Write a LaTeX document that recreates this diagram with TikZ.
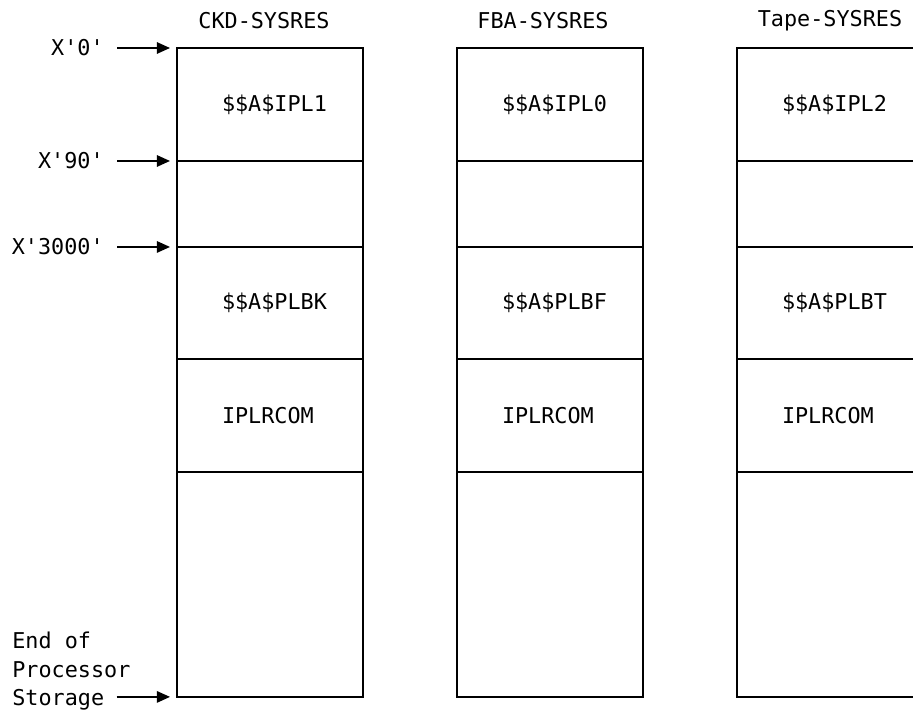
\documentclass[tikz,border=0pt]{standalone}
\usepackage{fontspec}
\setmonofont{DejaVu Sans Mono}
\usetikzlibrary{arrows.meta, positioning}

% module names start at a fixed column inside the box
\newcommand{\memtext}[1]{\makebox[1.92cm][l]{#1}}

\begin{document}
\begin{tikzpicture}[x=0.02cm, y=-0.02cm, >={Triangle[length=7.5pt, width=6.5pt]},
    txt/.style={font=\ttfamily\fontsize{12.4}{16.2}\selectfont},
    mem/.style={draw, line width=1pt, txt, minimum width=3.72cm, inner sep=0pt, outer sep=0pt},
    addr/.style={txt, anchor=east, inner xsep=0.26cm, inner ysep=0pt},
    ptr/.style={->, line width=1pt, shorten >=0.14cm}]

    \useasboundingbox (0,0) rectangle (913,713);

    % CKD-SYSRES
    \node[txt] (ckdtitle) at (264,21) {CKD-SYSRES};
    \node[mem, minimum height=2.26cm, anchor=north] (ckd1) at (270,48) {\memtext{\$\$A\$IPL1}};
    \node[mem, minimum height=1.72cm, below=0pt of ckd1] (ckd2) {};
    \node[mem, minimum height=2.24cm, below=0pt of ckd2] (ckd3) {\memtext{\$\$A\$PLBK}};
    \node[mem, minimum height=2.26cm, below=0pt of ckd3] (ckd4) {\memtext{IPLRCOM}};
    \node[mem, minimum height=4.5cm, below=0pt of ckd4] (ckd5) {};

    % FBA-SYSRES
    \node[txt] (fbatitle) at (543,21) {FBA-SYSRES};
    \node[mem, minimum height=2.26cm, anchor=north] (fba1) at (550,48) {\memtext{\$\$A\$IPL0}};
    \node[mem, minimum height=1.72cm, below=0pt of fba1] (fba2) {};
    \node[mem, minimum height=2.24cm, below=0pt of fba2] (fba3) {\memtext{\$\$A\$PLBF}};
    \node[mem, minimum height=2.26cm, below=0pt of fba3] (fba4) {\memtext{IPLRCOM}};
    \node[mem, minimum height=4.5cm, below=0pt of fba4] (fba5) {};

    % Tape-SYSRES (runs off the right edge)
    \node[txt] (tapetitle) at (830,21) {Tape-SYSRES};
    \node[mem, minimum height=2.26cm, anchor=north] (tape1) at (830,48) {\memtext{\$\$A\$IPL2}};
    \node[mem, minimum height=1.72cm, below=0pt of tape1] (tape2) {};
    \node[mem, minimum height=2.24cm, below=0pt of tape2] (tape3) {\memtext{\$\$A\$PLBT}};
    \node[mem, minimum height=2.26cm, below=0pt of tape3] (tape4) {\memtext{IPLRCOM}};
    \node[mem, minimum height=4.5cm, below=0pt of tape4] (tape5) {};

    % Addresses
    \node[addr] (a0) at (117,48) {X'0'};
    \node[addr] (a90) at (117,161) {X'90'};
    \node[addr] (a3000) at (117,247) {X'3000'};
    \draw[ptr] (a0) -- (ckd1.north west);
    \draw[ptr] (a90) -- (ckd2.north west);
    \draw[ptr] (a3000) -- (ckd3.north west);

    % End of storage
    \node[txt, align=left, anchor=north west, inner sep=0pt] (eop) at (12,632) {End of\\Processor\\Storage};
    \coordinate (eopend) at (117,697);
    \draw[ptr] (eopend) -- (ckd5.south west);
\end{tikzpicture}
\end{document}
